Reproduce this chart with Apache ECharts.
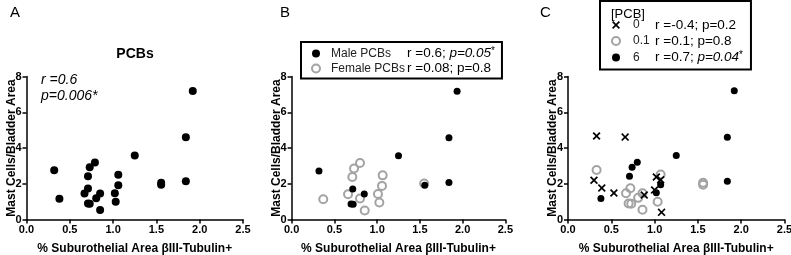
<!DOCTYPE html>
<html>
<head>
<meta charset="utf-8">
<script src="https://cdn.jsdelivr.net/npm/echarts@6/dist/echarts.min.js"></script>
<style>
  html, body { margin: 0; padding: 0; background: #fff; }
  #chart { width: 791px; height: 255px; }
</style>
</head>
<body>
<div id="chart"></div>
<script>
// panel A: all PCB-exposed animals
const allX = [0.32, 0.38, 0.67, 0.71, 0.71, 0.71, 0.73, 0.73, 0.79, 0.805, 0.85, 0.85, 1.02, 1.03, 1.06, 1.06, 1.25, 1.555, 1.555, 1.84, 1.84, 1.92];
const allY = [2.75, 1.16, 1.45, 2.42, 1.73, 0.9, 0.88, 2.92, 3.19, 1.19, 1.45, 0.53, 1.47, 0.99, 2.51, 1.92, 3.58, 2.05, 1.95, 4.6, 2.14, 7.19];

// panel B: by sex
const maleX = [0.32, 0.715, 0.85, 0.695, 0.72, 1.25, 1.557, 1.84, 1.84, 1.935];
const maleY = [2.72, 1.71, 1.43, 0.87, 0.85, 3.56, 1.92, 4.58, 2.07, 7.17];
const femaleX = [0.37, 0.66, 0.71, 0.73, 0.80, 0.80, 0.855, 1.01, 1.026, 1.065, 1.057, 1.55];
const femaleY = [1.13, 1.41, 2.38, 2.85, 3.16, 1.17, 0.5, 1.43, 0.95, 2.47, 1.88, 2.01];

// panel C: by dose
const dose0X = [0.33, 0.66, 0.30, 0.39, 0.53, 0.88, 1.02, 1.00, 1.07, 1.08];
const dose0Y = [4.67, 4.61, 2.2, 1.76, 1.48, 1.37, 2.38, 1.65, 2.22, 0.4];
const dose01X = [0.33, 0.67, 0.72, 0.70, 0.73, 0.81, 0.86, 0.86, 1.035, 1.07, 1.56, 1.56];
const dose01Y = [2.77, 1.47, 1.75, 0.9, 0.88, 1.21, 1.47, 0.55, 0.99, 2.52, 2.05, 1.95];
const dose6X = [0.80, 0.74, 0.71, 1.07, 1.02, 0.38, 1.84, 1.25, 1.84, 1.92];
const dose6Y = [3.2, 2.92, 2.42, 1.94, 1.5, 1.18, 2.14, 3.58, 4.6, 7.2];

const xTicks = [0, 0.5, 1.0, 1.5, 2.0, 2.5];
const yTicks = [0, 2, 4, 6, 8];

const FONT = '"Liberation Sans", Arial, sans-serif';
const GRAY = '#a3a3a3';
const CROSS = 'path://M0,1.5L1.5,0L5,3.5L8.5,0L10,1.5L6.5,5L10,8.5L8.5,10L5,6.5L1.5,10L0,8.5L3.5,5Z';

const zip = (xs, ys) => xs.map((x, i) => [x, ys[i]]);

const grids = [
  { left: 26.5, top: 76.5, width: 216.5, height: 143, outerBoundsMode: 'none' },
  { left: 291.6, top: 76.5, width: 213.8, height: 143, outerBoundsMode: 'none' },
  { left: 568, top: 76.5, width: 216.5, height: 143, outerBoundsMode: 'none' },
];

const axisLine = { lineStyle: { color: '#000', width: 1.5 } };
const axisTick = { length: 4, lineStyle: { color: '#000', width: 1.5 } };
const labelFont = { fontFamily: FONT, fontWeight: 'bold', fontSize: 11, color: '#000' };

const xAxes = grids.map((g, i) => ({
  gridIndex: i,
  type: 'value',
  min: xTicks[0],
  max: xTicks[xTicks.length - 1],
  interval: 0.5,
  axisLine, axisTick,
  splitLine: { show: false },
  axisLabel: { ...labelFont, margin: 5, formatter: (v) => v.toFixed(1) },
  name: '% Suburothelial Area βIII-Tubulin+',
  nameLocation: 'middle',
  nameGap: 23,
  nameMoveOverlap: false,
  nameTextStyle: { fontFamily: FONT, fontWeight: 'bold', fontSize: 12, color: '#000' },
}));

const yAxes = grids.map((g, i) => ({
  gridIndex: i,
  type: 'value',
  min: yTicks[0],
  max: yTicks[yTicks.length - 1],
  interval: 2,
  axisLine, axisTick,
  splitLine: { show: false },
  axisLabel: { ...labelFont, margin: 5 },
  name: 'Mast Cells/Bladder Area',
  nameLocation: 'middle',
  nameGap: 9,
  nameMoveOverlap: false,
  nameTextStyle: { fontFamily: FONT, fontWeight: 'bold', fontSize: 12, color: '#000' },
}));

const dot = (size) => ({ symbol: 'circle', symbolSize: size, itemStyle: { color: '#000', opacity: 1 } });
const ring = {
  symbol: 'circle', symbolSize: 8,
  itemStyle: { color: 'rgba(255,255,255,0)', borderColor: GRAY, borderWidth: 2, opacity: 1 },
};

const series = [
  { name: 'PCBs', type: 'scatter', xAxisIndex: 0, yAxisIndex: 0, data: zip(allX, allY), ...dot(8) },
  { name: 'Female PCBs', type: 'scatter', xAxisIndex: 1, yAxisIndex: 1, data: zip(femaleX, femaleY), ...ring },
  { name: 'Male PCBs', type: 'scatter', xAxisIndex: 1, yAxisIndex: 1, data: zip(maleX, maleY), ...dot(7) },
  { name: '0.1', type: 'scatter', xAxisIndex: 2, yAxisIndex: 2, data: zip(dose01X, dose01Y), ...ring },
  { name: '6', type: 'scatter', xAxisIndex: 2, yAxisIndex: 2, data: zip(dose6X, dose6Y), ...dot(7) },
  { name: '0', type: 'scatter', xAxisIndex: 2, yAxisIndex: 2, symbol: CROSS, symbolSize: 8,
    itemStyle: { color: '#000', opacity: 1 }, data: zip(dose0X, dose0Y) },
];

const legendRich = {
  n: { fontFamily: FONT, fontSize: 12, color: '#222', lineHeight: 15 },
  v: { fontFamily: FONT, fontSize: 13.5, color: '#000', lineHeight: 15 },
  i: { fontFamily: FONT, fontSize: 13.5, color: '#000', fontStyle: 'italic', lineHeight: 15 },
  s: { fontFamily: FONT, fontSize: 10, color: '#000', verticalAlign: 'top', lineHeight: 15 },
};

const statsB = {
  'Male PCBs': '{v|r =0.6; }{i|p=0.05}{s|*}',
  'Female PCBs': '{v|r =0.08; p=0.8}',
};
const statsC = {
  '0': '{v|r =-0.4; p=0.2}',
  '0.1': '{v|r =0.1; p=0.8}',
  '6': '{v|r =0.7; }{i|p=0.04}{s|*}',
};

const legends = [
  {
    data: ['Male PCBs', 'Female PCBs'],
    left: 301, top: 42, orient: 'vertical',
    padding: [4, 7, 3, 10], itemGap: 1, itemWidth: 8, itemHeight: 8,
    borderColor: '#000', borderWidth: 2, selectedMode: false,
    formatter: (name) => `{b|${name}}${statsB[name]}`,
    textStyle: { rich: { ...legendRich, b: { ...legendRich.n, width: 76, padding: [0, 0, 0, 6] } } },
  },
  {
    data: ['0', '0.1', '6'],
    left: 600, top: 1, orient: 'vertical',
    padding: [17, 8, 5, 11], itemGap: 2, itemWidth: 8, itemHeight: 8,
    borderColor: '#000', borderWidth: 2, selectedMode: false,
    formatter: (name) => `{b|${name}}${statsC[name]}`,
    textStyle: { rich: { ...legendRich, b: { ...legendRich.n, width: 22, padding: [0, 0, 0, 8] } } },
  },
];

const text = (x, y, str, font, align) => ({
  type: 'text', x, y, silent: true,
  style: { text: str, font, fill: '#000', textAlign: align || 'left', textVerticalAlign: 'middle' },
});

const graphics = [
  text(10, 13, 'A', `15px ${FONT}`),
  text(280, 13, 'B', `15px ${FONT}`),
  text(540, 13, 'C', `15px ${FONT}`),
  text(135, 54, 'PCBs', `bold 14px ${FONT}`, 'center'),
  text(41, 80, 'r =0.6', `italic 14px ${FONT}`),
  text(41, 96, 'p=0.006*', `italic 14px ${FONT}`),
  text(611, 14, '[PCB]', `13px ${FONT}`),
];

const chart = echarts.init(document.getElementById('chart'), null, { renderer: 'canvas' });
chart.setOption({
  animation: false,
  backgroundColor: '#fff',
  grid: grids,
  xAxis: xAxes,
  yAxis: yAxes,
  legend: legends,
  series,
  graphic: graphics,
});
</script>
</body>
</html>
